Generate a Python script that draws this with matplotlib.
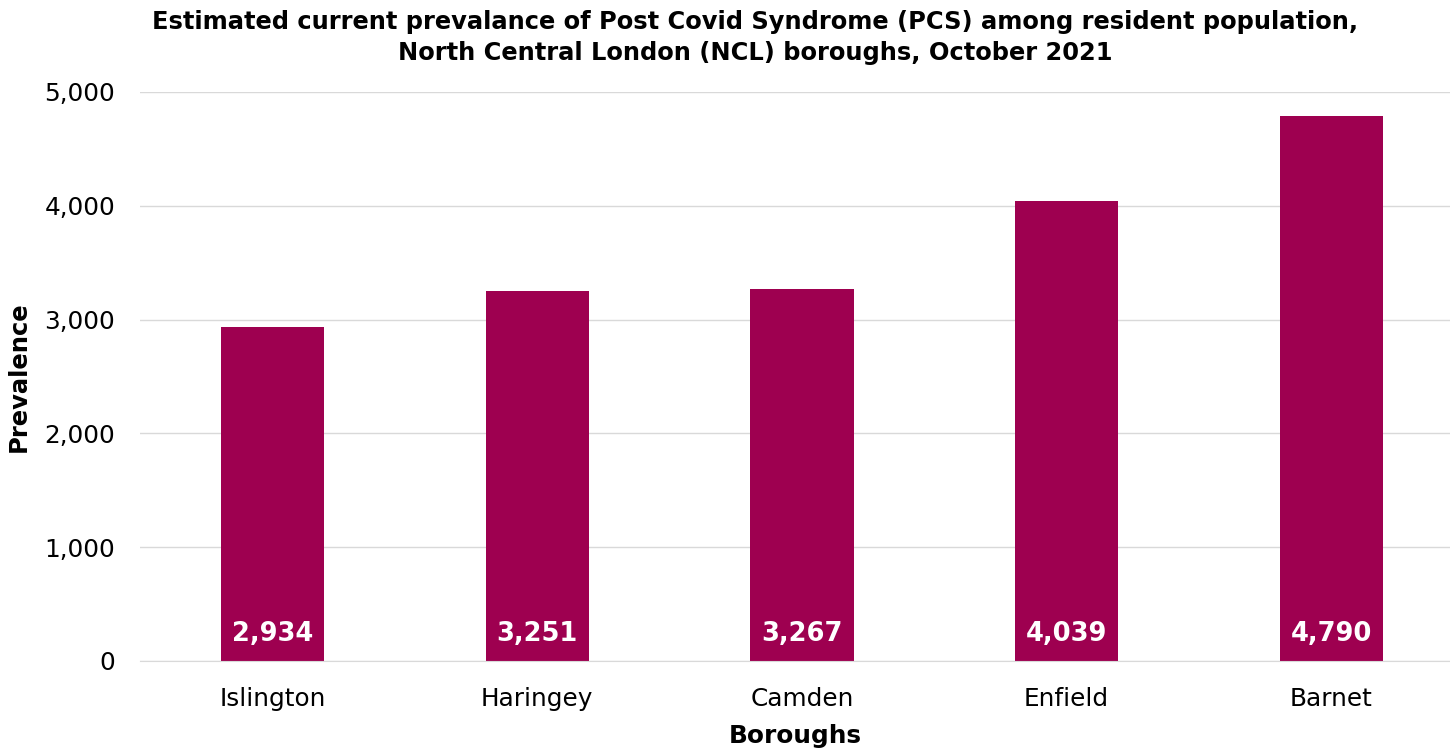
import matplotlib.pyplot as plt
from matplotlib.ticker import FuncFormatter

boroughs = ['Islington', 'Haringey', 'Camden', 'Enfield', 'Barnet']
prevalence = [2934, 3251, 3267, 4039, 4790]

BAR_COLOR = '#9e0050'

fig = plt.figure(figsize=(14.5, 7.52), dpi=100)
ax = fig.add_axes([140 / 1450, 1 - 661 / 752, 1310 / 1450, (661 - 92) / 752])

x = range(len(boroughs))
ax.bar(x, prevalence, width=0.39, color=BAR_COLOR, zorder=2)

for xi, val in zip(x, prevalence):
    ax.text(xi, 235, f'{val:,}', ha='center', va='center', color='white',
            fontsize=18.5, fontweight='bold', zorder=3)

ax.set_xlim(-0.5, 4.448)
ax.set_ylim(0, 5000)
ax.set_yticks(range(0, 5001, 1000))
ax.yaxis.set_major_formatter(FuncFormatter(lambda v, p: f'{int(v):,}'))
ax.set_xticks(list(x))
ax.set_xticklabels(boroughs)

# grid lines only, no frame
ax.yaxis.grid(True, color='#d9d9d9', linewidth=1, zorder=0)
for side in ['top', 'right', 'left']:
    ax.spines[side].set_visible(False)
ax.spines['bottom'].set_color('#d9d9d9')
ax.tick_params(axis='both', length=0, labelsize=17.8)
ax.tick_params(axis='x', pad=19)
ax.tick_params(axis='y', pad=18)

ax.set_xlabel('Boroughs', fontsize=17.8, fontweight='bold', labelpad=9)
ax.set_ylabel('Prevalence', fontsize=17.5, fontweight='bold', labelpad=10)

fig.suptitle('Estimated current prevalance of Post Covid Syndrome (PCS) among resident population,\n'
             'North Central London (NCL) boroughs, October 2021',
             fontsize=17.4, fontweight='bold', y=0.987, x=0.521, linespacing=1.38)

plt.savefig('out.png', dpi=100)
plt.close()
